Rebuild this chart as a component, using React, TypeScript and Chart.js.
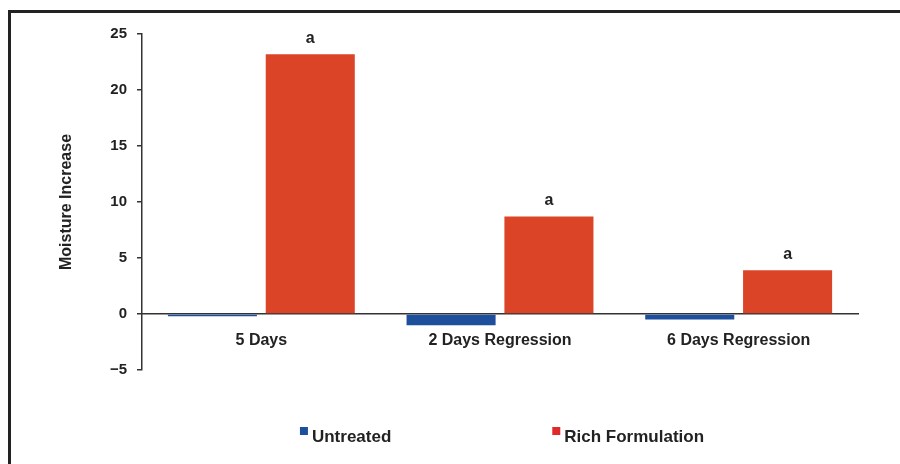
import React, { useEffect, useRef } from "react";
import { Chart, registerables } from "chart.js";

Chart.register(...registerables);

const categories = ["5 Days", "2 Days Regression", "6 Days Regression"];
const untreatedValues = [-0.2, -1.0, -0.5];
const richValues = [23.2, 8.7, 3.9];
const significanceLabels = ["a", "a", "a"];
const seriesNames = ["Untreated", "Rich Formulation"];
const yAxisTitle = "Moisture Increase";
const yMin = -5;
const yMax = 25;
const yStep = 5;

const FONT = "'Liberation Sans', Arial, Helvetica, sans-serif";
const TEXT = "#222222";
const BLUE = "#1d4f9c";
const RED = "#dc4428";
const LEGEND_COLORS = ["#1d4f9f", "#e02a2a"];

const significancePlugin = {
  id: "significance",
  afterDatasetsDraw(chart: any) {
    const ctx = chart.ctx;
    const meta = chart.getDatasetMeta(1);
    ctx.save();
    ctx.font = `bold 16px ${FONT}`;
    ctx.fillStyle = TEXT;
    ctx.textAlign = "center";
    ctx.textBaseline = "middle";
    meta.data.forEach((bar: any, i: number) => {
      ctx.fillText(significanceLabels[i], bar.x, bar.y - 16);
    });
    ctx.restore();
  },
};

const legendPlugin = {
  id: "customLegend",
  afterDraw(chart: any) {
    const ctx = chart.ctx;
    const { left, right, bottom } = chart.chartArea;
    ctx.save();
    ctx.font = `bold 17px ${FONT}`;
    const box = 8;
    const gapBoxText = 4;
    const itemGap = 161;
    const widths = chart.data.datasets.map(
      (ds: any) => box + gapBoxText + ctx.measureText(ds.label).width
    );
    const total = widths.reduce((a: number, b: number) => a + b, 0) + itemGap * (widths.length - 1);
    let x = (left + right) / 2 + 2 - total / 2;
    const cy = bottom + 67;
    chart.data.datasets.forEach((ds: any, i: number) => {
      ctx.fillStyle = LEGEND_COLORS[i];
      ctx.fillRect(x, cy - 10, box, box);
      ctx.fillStyle = TEXT;
      ctx.textAlign = "left";
      ctx.textBaseline = "middle";
      ctx.fillText(ds.label, x + box + gapBoxText, cy);
      x += widths[i] + itemGap;
    });
    ctx.restore();
  },
};

export default function App() {
  const canvasRef = useRef<HTMLCanvasElement | null>(null);

  useEffect(() => {
    if (!canvasRef.current) return;
    const chart = new Chart(canvasRef.current, {
      type: "bar",
      data: {
        labels: categories,
        datasets: [
          {
            label: seriesNames[0],
            data: untreatedValues,
            backgroundColor: BLUE,
            categoryPercentage: 0.82,
            barPercentage: 0.91,
          },
          {
            label: seriesNames[1],
            data: richValues,
            backgroundColor: RED,
            categoryPercentage: 0.82,
            barPercentage: 0.91,
          },
        ],
      },
      options: {
        responsive: false,
        animation: false,
        layout: { padding: { left: 0, top: 34, right: 42, bottom: 94 } },
        plugins: {
          legend: { display: false },
          tooltip: { enabled: false },
        },
        scales: {
          x: {
            position: { y: 0 } as any,
            grid: { display: true, color: "transparent", drawTicks: false },
            border: { display: true, color: "#333333", width: 1.5 },
            ticks: {
              color: TEXT,
              font: { family: FONT, size: 16, weight: "bold" },
              padding: 17,
            },
            afterFit: (scale: any) => {
              scale.height = 0;
            },
          },
          y: {
            min: yMin,
            max: yMax,
            ticks: {
              stepSize: yStep,
              color: TEXT,
              padding: 10,
              font: { family: FONT, size: 15, weight: "bold" },
              callback: (v: any) => (Number(v) < 0 ? "\u2212" + Math.abs(Number(v)) : String(v)),
            },
            grid: {
              drawOnChartArea: false,
              drawTicks: true,
              tickLength: 5,
              tickColor: "#333333",
              lineWidth: 1.5,
            },
            border: { display: true, color: "#333333", width: 1.5 },
            title: {
              display: true,
              text: yAxisTitle,
              color: TEXT,
              font: { family: FONT, size: 16, weight: "bold" },
              padding: { top: 57, bottom: 0 },
            },
            afterFit: (scale: any) => {
              scale.width = 142;
            },
          },
        },
      },
      plugins: [significancePlugin, legendPlugin],
    });
    return () => chart.destroy();
  }, []);

  return (
    <div
      style={{
        position: "fixed",
        left: 0,
        top: 0,
        width: 900,
        height: 464,
        background: "#ffffff",
      }}
    >
      <canvas ref={canvasRef} width={900} height={464} style={{ display: "block" }} />
      <div
        style={{
          position: "absolute",
          left: 8,
          top: 10,
          width: 892,
          height: 454,
          borderTop: "3px solid #222",
          borderLeft: "3px solid #222",
          boxSizing: "border-box",
          pointerEvents: "none",
        }}
      />
    </div>
  );
}
